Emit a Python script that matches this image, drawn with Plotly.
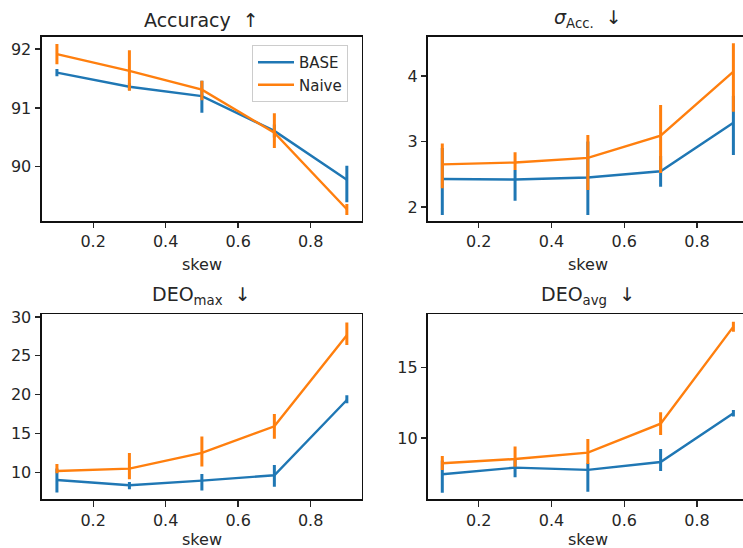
import plotly.graph_objects as go

skew = [0.1, 0.3, 0.5, 0.7, 0.9]
series_names = ["BASE", "Naive"]

# Accuracy
acc_base = [91.60, 91.36, 91.20, 90.61, 89.78]
acc_base_lo = [91.54, 91.30, 90.92, 90.50, 89.40]
acc_base_hi = [91.66, 91.42, 91.46, 90.72, 90.02]
acc_naive = [91.915, 91.63, 91.31, 90.58, 89.28]
acc_naive_lo = [91.74, 91.29, 91.13, 90.32, 89.18]
acc_naive_hi = [92.085, 91.98, 91.46, 90.91, 89.37]

# sigma Acc.
sig_base = [2.427, 2.42, 2.45, 2.545, 3.288]
sig_base_lo = [1.878, 2.097, 1.878, 2.31, 2.794]
sig_base_hi = [2.90, 2.565, 3.00, 2.78, 3.70]
sig_naive = [2.651, 2.68, 2.75, 3.09, 4.066]
sig_naive_lo = [2.285, 2.565, 2.26, 2.52, 3.455]
sig_naive_hi = [2.97, 2.835, 3.10, 3.557, 4.50]

# DEO max
dmax_base = [9.01, 8.33, 8.93, 9.61, 19.31]
dmax_base_lo = [7.38, 7.81, 7.64, 8.15, 18.88]
dmax_base_hi = [10.5, 8.76, 9.79, 10.94, 19.91]
dmax_naive = [10.17, 10.47, 12.49, 15.92, 27.64]
dmax_naive_lo = [9.87, 9.10, 10.73, 14.33, 26.39]
dmax_naive_hi = [11.07, 12.49, 14.59, 17.51, 29.27]

# DEO avg
davg_base = [7.43, 7.90, 7.74, 8.30, 11.75]
davg_base_lo = [6.13, 7.22, 6.20, 7.67, 11.51]
davg_base_hi = [8.4, 8.5, 8.21, 9.22, 11.98]
davg_naive = [8.21, 8.51, 8.96, 11.01, 17.88]
davg_naive_lo = [7.74, 7.97, 8.16, 10.21, 17.52]
davg_naive_hi = [8.73, 9.39, 9.93, 11.82, 18.23]

titles = ["Accuracy\u00a0\u00a0↑",
          "<i>σ</i><sub>Acc.</sub>\u00a0\u00a0↓",
          "DEO<sub>max</sub>\u00a0\u00a0↓",
          "DEO<sub>avg</sub>\u00a0\u00a0↓"]

y_ticks = [[90, 91, 92], [2, 3, 4], [10, 15, 20, 25, 30], [10, 15]]
y_ranges = [[89.08, 92.21], [1.786, 4.60], [6.52, 30.34], [5.66, 18.75]]
x_ticks = [0.2, 0.4, 0.6, 0.8]

panels = [
    (acc_base, acc_base_lo, acc_base_hi, acc_naive, acc_naive_lo, acc_naive_hi),
    (sig_base, sig_base_lo, sig_base_hi, sig_naive, sig_naive_lo, sig_naive_hi),
    (dmax_base, dmax_base_lo, dmax_base_hi, dmax_naive, dmax_naive_lo, dmax_naive_hi),
    (davg_base, davg_base_lo, davg_base_hi, davg_naive, davg_naive_lo, davg_naive_hi),
]

colors = ["#1f77b4", "#ff7f0e"]
TXT = "#262626"
FONT = "DejaVu Sans"

W, H = 743, 548
xdom_left = [41.7 / W, 361.7 / W]
xdom_right = [428 / W, 1.0]
ydom_top = [1 - 221 / H, 1 - 36.7 / H]
ydom_bot = [1 - 499.3 / H, 1 - 314.3 / H]
xdoms = [xdom_left, xdom_right, xdom_left, xdom_right]
ydoms = [ydom_top, ydom_top, ydom_bot, ydom_bot]
x_ranges = [[0.058, 0.941], [0.0607, 0.9264], [0.058, 0.941], [0.0607, 0.9264]]
skew_label_shift = [-43.4, -43.4, -40.0, -40.0]

fig = go.Figure()
layout = dict(
    width=W, height=H,
    margin=dict(l=0, r=0, t=0, b=0, pad=0, autoexpand=False),
    paper_bgcolor="white", plot_bgcolor="white",
    font=dict(family=FONT, size=16, color=TXT),
    showlegend=True,
    legend=dict(x=348 / W, xanchor="right", y=1 - 45 / H, yanchor="top",
                bgcolor="rgba(255,255,255,0.8)", bordercolor="#cccccc", borderwidth=1,
                itemwidth=36,
                font=dict(size=15, color=TXT, family=FONT), tracegroupgap=2),
)
annotations = []

for i, p in enumerate(panels):
    ax = "" if i == 0 else str(i + 1)
    xref, yref = "x" + ax, "y" + ax
    for s in range(2):
        mean, lo, hi = p[3 * s], p[3 * s + 1], p[3 * s + 2]
        fig.add_trace(go.Scatter(
            x=skew, y=mean, mode="lines", name=series_names[s],
            line=dict(color=colors[s], width=2.4),
            error_y=dict(type="data", symmetric=False,
                         array=[h - m for h, m in zip(hi, mean)],
                         arrayminus=[m - l for m, l in zip(mean, lo)],
                         color=colors[s], thickness=3, width=0),
            showlegend=(i == 0), xaxis=xref, yaxis=yref, hoverinfo="skip",
        ))
    right_panel = (i % 2 == 1)
    layout["xaxis" + ax] = dict(
        domain=xdoms[i], range=x_ranges[i], anchor=yref,
        tickvals=x_ticks, ticktext=[f"{v:.1f}" for v in x_ticks],
        ticks="outside", ticklen=5.6, tickwidth=1.3, tickcolor=TXT,
        showline=True, linecolor="#111111", linewidth=1.6, mirror=True,
        showgrid=False, zeroline=False, automargin=False,
        tickfont=dict(size=16, color=TXT, family=FONT),
    )
    layout["yaxis" + ax] = dict(
        domain=ydoms[i], range=y_ranges[i], anchor=xref,
        tickvals=y_ticks[i], ticktext=[str(v) for v in y_ticks[i]],
        ticks="outside", ticklen=5.6, tickwidth=1.3, tickcolor=TXT,
        showline=True, linecolor="#111111", linewidth=1.6, mirror=(not right_panel),
        showgrid=False, zeroline=False, automargin=False,
        tickfont=dict(size=16, color=TXT, family=FONT),
    )
    # panel title
    xc = (xdoms[i][0] + xdoms[i][1]) / 2
    if right_panel:
        xc = (428 + 748) / 2 / W
    annotations.append(dict(
        text=titles[i], x=xc, y=ydoms[i][1], xref="paper", yref="paper",
        xanchor="center", yanchor="bottom", yshift=4, showarrow=False,
        font=dict(size=19, color=TXT, family=FONT)))
    # x label
    annotations.append(dict(
        text="skew", x=xc, y=ydoms[i][0], xref="paper", yref="paper",
        xanchor="center", yanchor="middle", yshift=skew_label_shift[i], height=12,
        showarrow=False, font=dict(size=16, color=TXT, family=FONT)))

layout["annotations"] = annotations
fig.update_layout(**layout)
fig.write_html(
    "out.html",
    config={"displayModeBar": False, "staticPlot": True},
    post_script=(
        "document.body.style.margin='0';"
        "document.body.style.overflow='hidden';"
        "var d=document.getElementById('{plot_id}');"
        "d.style.position='fixed';d.style.top='0px';d.style.left='0px';"
    ),
)
